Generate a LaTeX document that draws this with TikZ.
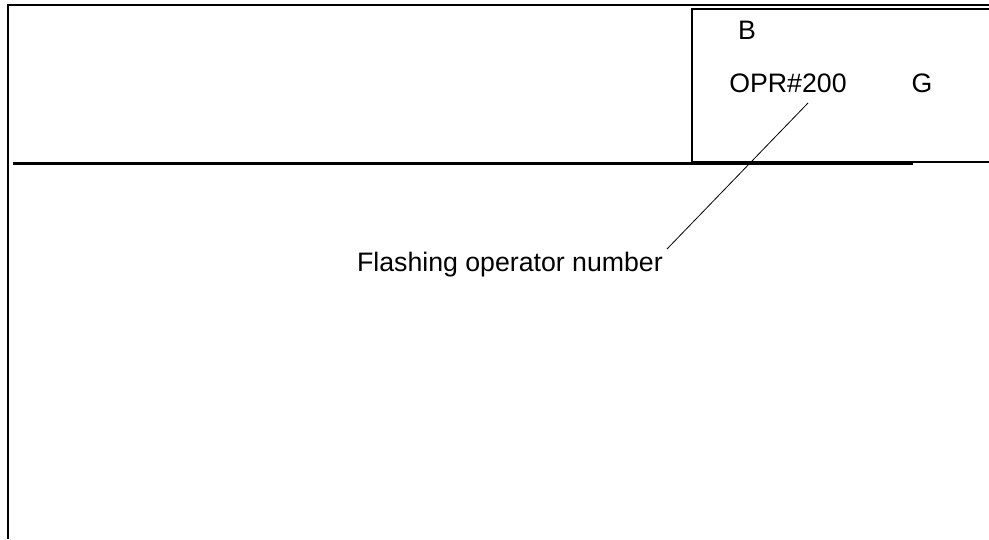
\documentclass[tikz,border=0pt]{standalone}
\usepackage{fontspec}
\setmainfont{Liberation Sans}
\begin{document}
\begin{tikzpicture}[x=1pt,y=-1pt,
  lbl/.style={inner sep=0pt,font=\fontsize{26.7}{30}\selectfont},
  frame/.style={line width=2.2pt},
  leader/.style={line width=0.8pt}]
\useasboundingbox (0,0) rectangle (989,539);
\draw[frame] (8,539) -- (8,5) -- (989,5);
\draw[frame] (989,9) -- (692,9) -- (692,162) -- (989,162);
\draw[line width=3pt] (13,163) -- (913,163);
\node[lbl] (b) at (747,30) {B};
\node[lbl] (opr) at (788,83) {OPR\#200};
\node[lbl] (g) at (922,83) {G};
\node[lbl,anchor=east] (flash) at (663,265) {Flashing operator number};
\coordinate (tip) at (808,103);
\coordinate (foot) at (667,249);
\draw[leader] (tip) -- (foot);
\end{tikzpicture}
\end{document}
